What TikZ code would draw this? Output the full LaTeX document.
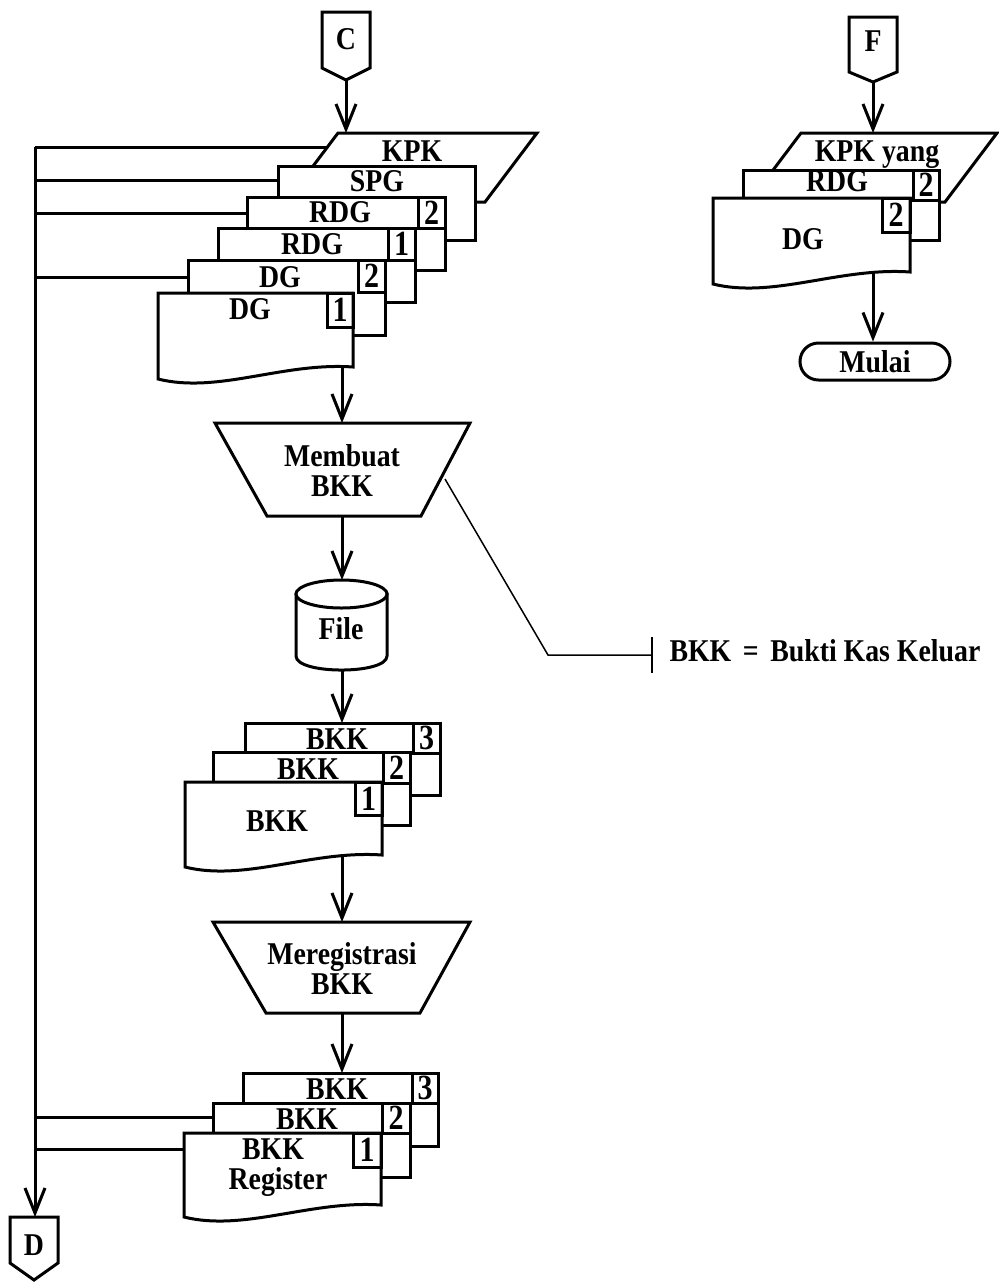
\documentclass[tikz,border=0pt]{standalone}
\usepackage{fontspec}
\usepackage{graphicx}
\setmainfont{Liberation Serif}
\usetikzlibrary{arrows.meta}

% slightly tall lettering used for all labels
\newcommand\tall[1]{\scalebox{1}[1.14]{#1}}
% one sheet of a stacked set of documents
\newcommand\sheet[4]{\filldraw[fill=white] (#1,#2) rectangle (#3,#4);}
% copy-number tab in the upper right corner of a sheet
\newcommand\copytab[5]{\draw (#1,#2) rectangle (#3,#4);
  \node[num] at ({(#1+#3)/2},{(#2+#4)/2}) {\scalebox{1}[1.18]{#5}};}
% front document with a wavy lower edge (right corner at #4, left corner lower)
\newcommand\docsheet[4]{\filldraw[fill=white] (#1,#2) -- (#3,#2) -- (#3,#4)
  .. controls ({#3-70},{#4-5}) and ({#1+60},{#4+27}) .. (#1,{#4+12}) -- cycle;}

\begin{document}
\begin{tikzpicture}[x=0.5pt,y=-0.5pt,line width=1.5pt,
  lbl/.style={font=\bfseries\fontsize{13.9}{16}\selectfont,inner sep=0pt,anchor=base},
  num/.style={font=\bfseries\fontsize{15}{16}\selectfont,inner sep=0pt},
  flow/.style={-{Straight Barb[length=12.5pt,width=10pt]}},
  note/.style={line width=0.75pt}]
\useasboundingbox (0,0) rectangle (998,1282);

% ---------- off-page connector C ----------
\filldraw[fill=white] (322,12) -- (370,12) -- (370,68) -- (346,80) -- (322,68) -- cycle;
\node[lbl] (cC) at (346,49) {\tall{C}};
\coordinate (c-out) at (346,80);

% ---------- left input stack ----------
\filldraw[fill=white] (338,133) -- (537,133) -- (485,202) -- (286,202) -- cycle;
\coordinate (kpk-in) at (346,133);
\node[lbl] (tKPK) at (412,161) {\tall{KPK}};
\sheet{278}{166}{475}{240}
\node[lbl] (tSPG) at (377,191) {\tall{SPG}};
\sheet{247}{197}{445}{270}
\copytab{418}{197}{445}{228}{2}
\node[lbl] (tRDG2) at (340,222) {\tall{RDG}};
\sheet{218}{228}{415}{302}
\copytab{388}{228}{415}{260}{1}
\node[lbl] (tRDG1) at (312,254) {\tall{RDG}};
\sheet{188}{260}{385}{335}
\copytab{358}{260}{385}{292}{2}
\node[lbl] (tDG2) at (280,287) {\tall{DG}};
\docsheet{158}{293}{353}{367}
\copytab{327}{293}{353}{327}{1}
\node[lbl] (tDG1) at (250,319) {\tall{DG}};
\coordinate (dg1-out) at (342,368);

\draw[flow] (c-out) -- (kpk-in);

% ---------- process: Membuat BKK ----------
\filldraw[fill=white] (215,423) -- (470,423) -- (421,516) -- (267,516) -- cycle;
\coordinate (mb-in) at (342,423);
\coordinate (mb-out) at (342,516);
\coordinate (mb-edge) at (445,479);
\node[lbl] (tMb1) at (342,466) {\tall{Membuat}};
\node[lbl] (tMb2) at (342,496) {\tall{BKK}};
\draw[flow] (dg1-out) -- (mb-in);

% ---------- file ----------
\filldraw[fill=white] (296,594) -- (296,656) .. controls (296,674.7) and (387,674.7) .. (387,656) -- (387,594) -- cycle;
\filldraw[fill=white] (341.5,594) ellipse [x radius=45.5, y radius=14];
\coordinate (file-in) at (342,580);
\coordinate (file-out) at (342,670);
\node[lbl] (tFile) at (341,639) {\tall{File}};
\draw[flow] (mb-out) -- (file-in);

% ---------- BKK set ----------
\sheet{245}{723}{440}{795}
\copytab{413}{723}{440}{753}{3}
\node[lbl] (tB3) at (337,749) {\tall{BKK}};
\sheet{213}{752}{410}{825}
\copytab{383}{752}{410}{783}{2}
\node[lbl] (tB2) at (308,779) {\tall{BKK}};
\docsheet{185}{782}{382}{855}
\copytab{355}{782}{382}{815}{1}
\node[lbl] (tB1) at (277,831) {\tall{BKK}};
\coordinate (bkk-in) at (342,723);
\coordinate (bkk-out) at (342,856);
\draw[flow] (file-out) -- (bkk-in);

% ---------- process: Meregistrasi BKK ----------
\filldraw[fill=white] (213,922) -- (470,922) -- (420,1013) -- (266,1013) -- cycle;
\coordinate (mr-in) at (342,922);
\coordinate (mr-out) at (342,1013);
\node[lbl] (tMr1) at (342,964) {\tall{Meregistrasi}};
\node[lbl] (tMr2) at (342,994) {\tall{BKK}};
\draw[flow] (bkk-out) -- (mr-in);

% ---------- registered BKK set ----------
\sheet{243}{1073}{438}{1146}
\copytab{412}{1073}{438}{1103}{3}
\node[lbl] (tR3) at (337,1099) {\tall{BKK}};
\sheet{213}{1103}{410}{1177}
\copytab{382}{1103}{410}{1133}{2}
\node[lbl] (tR2) at (307,1129) {\tall{BKK}};
\docsheet{184}{1133}{381}{1205}
\copytab{353}{1133}{381}{1167}{1}
\node[lbl] (tR1a) at (273,1159) {\tall{BKK}};
\node[lbl] (tR1b) at (278,1189) {\tall{Register}};
\coordinate (reg-in) at (342,1073);
\draw[flow] (mr-out) -- (reg-in);

% ---------- off-page connector D ----------
\filldraw[fill=white] (10,1217) -- (58,1217) -- (58,1263) -- (34,1280) -- (10,1263) -- cycle;
\node[lbl] (cD) at (34,1255) {\tall{D}};
\coordinate (d-in) at (35,1217);

% ---------- bus to D ----------
\coordinate (kpk-w) at (327,147);
\coordinate (spg-w) at (278,180);
\coordinate (rdg2-w) at (247,213);
\coordinate (dg2-w) at (188,277);
\coordinate (rb2-w) at (213,1117);
\coordinate (rb1-w) at (184,1149);
\coordinate (bus-top) at (35,147);
\draw (kpk-w) -- (bus-top);
\draw[flow] (bus-top) -- (d-in);
\draw (spg-w) -- (spg-w -| bus-top);
\draw (rdg2-w) -- (rdg2-w -| bus-top);
\draw (dg2-w) -- (dg2-w -| bus-top);
\draw (rb2-w) -- (rb2-w -| bus-top);
\draw (rb1-w) -- (rb1-w -| bus-top);

% ---------- note ----------
\coordinate (nt-bend) at (548,655);
\coordinate (nt-bar) at (652,655);
\draw[note] (mb-edge) -- (nt-bend) -- (nt-bar);
\draw[note] (652,637) -- (652,673);
\node[lbl,anchor=base west] (tNote) at (668,661) {\tall{BKK\ \,=\ \,Bukti Kas Keluar}};

% ---------- right column ----------
\filldraw[fill=white] (849,17) -- (897,17) -- (897,72) -- (873,82) -- (849,72) -- cycle;
\node[lbl] (cF) at (873,51) {\tall{F}};
\coordinate (f-out) at (873,82);

\filldraw[fill=white] (801,133) -- (997,133) -- (945,202) -- (749,202) -- cycle;
\coordinate (kpy-in) at (873,133);
\node[lbl] (tKPY) at (877,161) {\tall{KPK yang}};
\sheet{743}{170}{939}{240}
\copytab{913}{170}{939}{200}{2}
\node[lbl] (tRDGr) at (837,191) {\tall{RDG}};
\docsheet{713}{198}{910}{272}
\copytab{882}{198}{910}{232}{2}
\node[lbl] (tDGr) at (803,249) {\tall{DG}};
\coordinate (dgr-out) at (873,273);
\draw[flow] (f-out) -- (kpy-in);

\node[draw,rounded corners=9.25pt,minimum width=75pt,minimum height=18.5pt,inner sep=0pt,
      font=\bfseries\fontsize{13.9}{16}\selectfont] (mulai) at (875,361.5) {\tall{Mulai}};
\draw[flow] (dgr-out) -- (mulai.north -| dgr-out);
\end{tikzpicture}
\end{document}
